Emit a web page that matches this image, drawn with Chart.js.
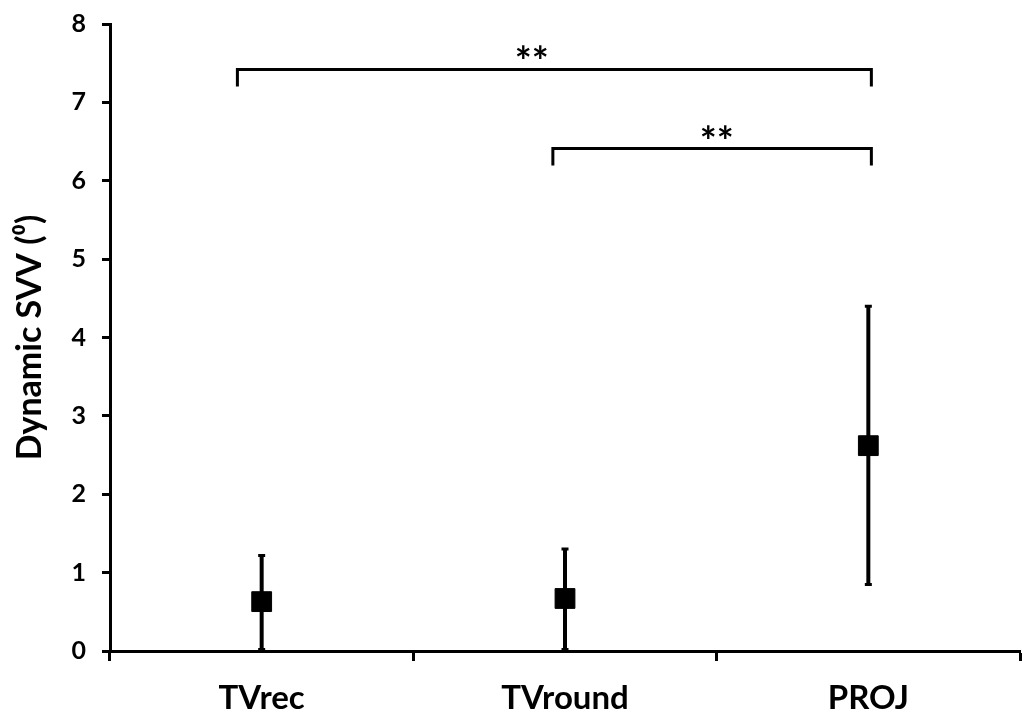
<!DOCTYPE html>
<html>
<head>
<meta charset="utf-8">
<script src="https://cdn.jsdelivr.net/npm/chart.js@4/dist/chart.umd.min.js"></script>
<style>
  html, body { margin: 0; padding: 0; background: #fff; }
  #wrap { width: 1022px; height: 713px; }
</style>
</head>
<body>
<div id="wrap"><canvas id="svv-chart"></canvas></div>
<script>
/* Data */
let groups = ['TVrec', 'TVround', 'PROJ']
let meanSVV = [0.63, 0.67, 2.62]
let lowSVV = [0.02, 0.02, 0.85]
let highSVV = [1.22, 1.30, 4.40]
let yTicks = [0, 1, 2, 3, 4, 5, 6, 7, 8]

// significance brackets (ends given in category units)
let sigFrom = [-0.08, 0.96]
let sigTo = [2.01, 2.01]
let sigY = [7.42, 6.41]
let sigStarX = [0.89, 1.5]
let sigText = ['**', '**']

let ink = '#000'

// Position along the category axis, allowing fractions between categories
function catPixel(scale, v) {
    let p0 = scale.getPixelForValue(0)
    let p1 = scale.getPixelForValue(1)
    return p0 + v * (p1 - p0)
}

/* Error bars behind the markers */
let errorBars = {
    id: 'errorBars',
    beforeDatasetsDraw(chart) {
        let ctx = chart.ctx
        let x = chart.scales.x
        let y = chart.scales.y
        ctx.save()
        ctx.strokeStyle = ink
        groups.forEach(function(g, i) {
            let px = x.getPixelForValue(i)
            let top = y.getPixelForValue(highSVV[i])
            let bot = y.getPixelForValue(lowSVV[i])
            ctx.lineWidth = 4
            ctx.beginPath()
            ctx.moveTo(px, top)
            ctx.lineTo(px, bot)
            ctx.stroke()
            // caps
            ctx.lineWidth = 3
            ctx.beginPath()
            ctx.moveTo(px - 3.5, top)
            ctx.lineTo(px + 3.5, top)
            ctx.moveTo(px - 3.5, bot)
            ctx.lineTo(px + 3.5, bot)
            ctx.stroke()
        })
        ctx.restore()
    }
}

/* Brackets with significance stars */
let sigBrackets = {
    id: 'sigBrackets',
    afterDatasetsDraw(chart) {
        let ctx = chart.ctx
        let x = chart.scales.x
        let y = chart.scales.y
        ctx.save()
        ctx.strokeStyle = ink
        ctx.fillStyle = ink
        ctx.lineWidth = 3
        ctx.lineJoin = 'miter'
        ctx.font = 'bold 40px Lato'
        ctx.textAlign = 'center'
        ctx.textBaseline = 'alphabetic'
        sigY.forEach(function(v, i) {
            let py = y.getPixelForValue(v)
            let x1 = catPixel(x, sigFrom[i])
            let x2 = catPixel(x, sigTo[i])
            ctx.beginPath()
            ctx.moveTo(x1, py + 17)
            ctx.lineTo(x1, py)
            ctx.lineTo(x2, py)
            ctx.lineTo(x2, py + 17)
            ctx.stroke()
            ctx.fillText(sigText[i], catPixel(x, sigStarX[i]), py + 7)
        })
        ctx.restore()
    }
}

let ctx = document.querySelector('#svv-chart').getContext('2d')

let svvChart = new Chart(ctx, {
    type: 'line',
    data: {
        labels: groups,
        datasets: [{
            data: meanSVV,
            showLine: false,
            pointStyle: 'rect',
            pointRadius: 14,
            pointHoverRadius: 14,
            pointBackgroundColor: ink,
            pointBorderColor: ink,
            pointBorderWidth: 1
        }]
    },
    options: {
        responsive: true,
        maintainAspectRatio: false,
        animation: false,
        layout: { autoPadding: false, padding: { top: 24, right: 2, left: 0, bottom: 0 } },
        plugins: {
            legend: { display: false },
            tooltip: { enabled: false }
        },
        scales: {
            x: {
                type: 'category',
                offset: true,
                border: { display: true, color: ink, width: 3 },
                grid: {
                    offset: true,
                    drawOnChartArea: false,
                    drawTicks: true,
                    tickLength: 10,
                    tickWidth: 3,
                    tickColor: ink
                },
                ticks: {
                    color: ink,
                    padding: 18,
                    font: { family: 'Lato', weight: 'bold', size: 33 }
                },
                afterFit(scale) { scale.height = 62 }
            },
            y: {
                min: 0,
                max: 8,
                afterBuildTicks(scale) {
                    scale.ticks = yTicks.map(function(v) { return { value: v } })
                },
                border: { display: true, color: ink, width: 3 },
                grid: {
                    drawOnChartArea: false,
                    drawTicks: true,
                    tickLength: 8,
                    tickWidth: 3,
                    tickColor: ink
                },
                ticks: {
                    color: ink,
                    padding: 16,
                    font: { family: 'Lato', weight: 'bold', size: 25 }
                },
                title: {
                    display: true,
                    text: 'Dynamic SVV (\u2070)',
                    color: ink,
                    padding: { top: 10, bottom: 0 },
                    font: { family: 'Lato', weight: 'bold', size: 34 }
                },
                afterFit(scale) {
                    scale.width = 110
                    // let the top label sit in the layout padding
                    scale.paddingTop = 0
                    scale.paddingBottom = 0
                }
            }
        }
    },
    plugins: [errorBars, sigBrackets]
})
</script>
</body>
</html>
